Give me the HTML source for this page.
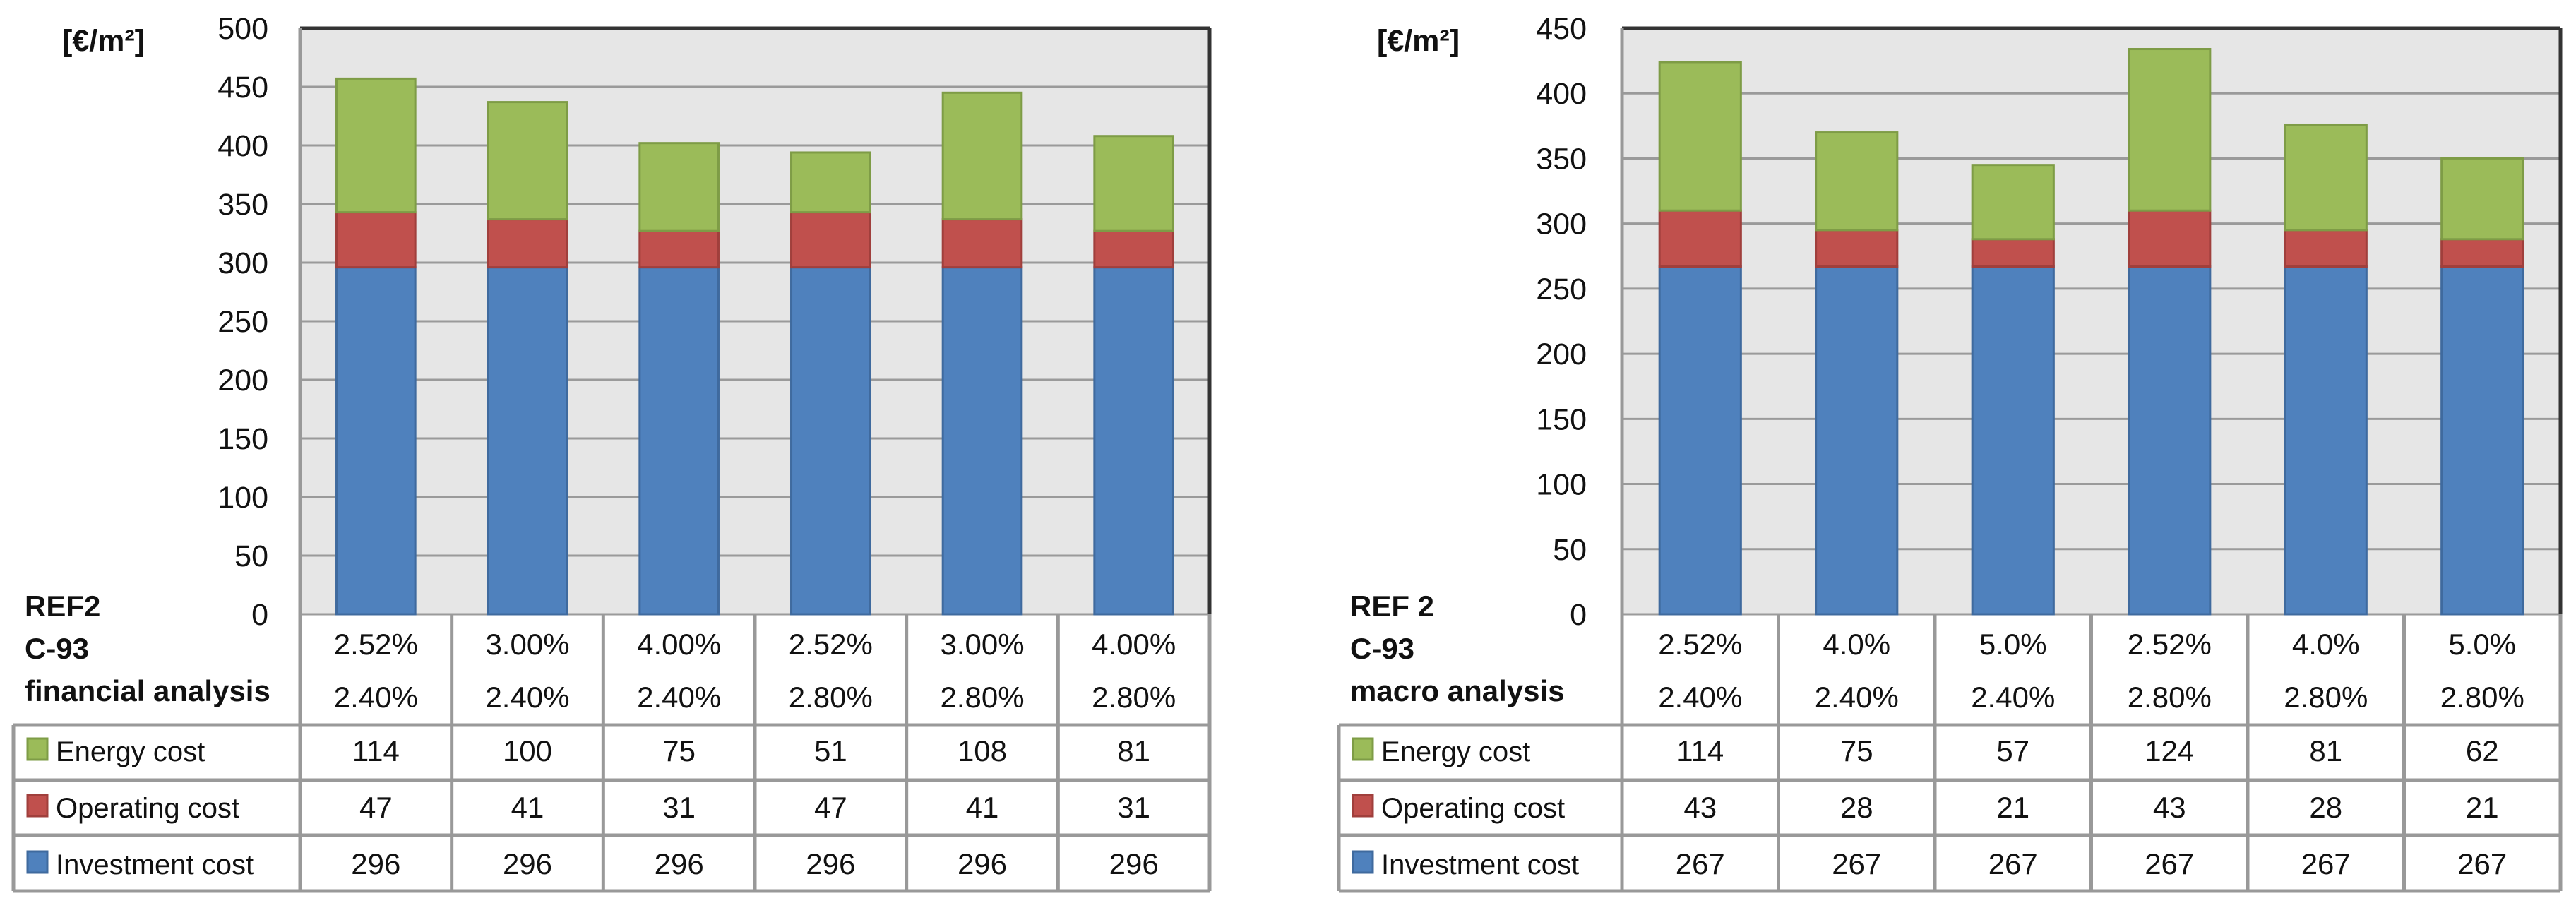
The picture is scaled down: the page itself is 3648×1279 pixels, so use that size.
<!DOCTYPE html>
<html><head><meta charset="utf-8"><style>
html,body{margin:0;padding:0;background:#fff;}
svg{display:block;}
text{font-family:"Liberation Sans",sans-serif;fill:#111;}
</style></head><body>
<svg id="chart" width="3648" height="1279" viewBox="0 0 3648 1279" xmlns="http://www.w3.org/2000/svg"></svg>
<script>
const leftEnergy=[114,100,75,51,108,81];
const leftOperating=[47,41,31,47,41,31];
const leftInvestment=[296,296,296,296,296,296];
const leftRate1=["2.52%","3.00%","4.00%","2.52%","3.00%","4.00%"];
const leftRate2=["2.40%","2.40%","2.40%","2.80%","2.80%","2.80%"];
const leftTicks=[0,50,100,150,200,250,300,350,400,450,500];
const leftHeader=["REF2","C-93","financial analysis"];

const rightEnergy=[114,75,57,124,81,62];
const rightOperating=[43,28,21,43,28,21];
const rightInvestment=[267,267,267,267,267,267];
const rightRate1=["2.52%","4.0%","5.0%","2.52%","4.0%","5.0%"];
const rightRate2=["2.40%","2.40%","2.40%","2.80%","2.80%","2.80%"];
const rightTicks=[0,50,100,150,200,250,300,350,400,450];
const rightHeader=["REF 2","C-93","macro analysis"];

const seriesNames=["Energy cost","Operating cost","Investment cost"];

const svg=document.getElementById('chart');
const NS="http://www.w3.org/2000/svg";
function mk(tag,attrs,parent){const e=document.createElementNS(NS,tag);for(const k in attrs)e.setAttribute(k,attrs[k]);(parent||svg).appendChild(e);return e;}
function txt(s,attrs,parent){const e=mk('text',attrs,parent);e.textContent=s;return e;}

function drawChart(cfg){
  const g=mk('g',{});
  
  
  const x0=cfg.x0,x1=cfg.x1,yTop=40,yBot=870,max=cfg.ticks[cfg.ticks.length-1];
  const y=v=>yBot-(v/max)*(yBot-yTop);
  const n=cfg.energy.length,slot=(x1-x0)/n;
  const xc=i=>x0+slot*(i+0.5);
  const bw=slot*0.52;
  // plot bg
  const bg=mk('rect',{x:x0,y:yTop,width:x1-x0,height:yBot-yTop,fill:'#e6e6e6'},g);
  
  
  cfg.ticks.forEach(t=>{
    const gl=mk('line',{x1:x0,x2:x1,y1:y(t),y2:y(t),stroke:'#9a9a9a','stroke-width':3},g);
    
    
    const tl=txt(String(t),{x:cfg.tickX,y:y(t)+15,'text-anchor':'end','font-size':43},g);
    
    
  });
  mk('line',{x1:x0,x2:x1,y1:yTop,y2:yTop,stroke:'#333','stroke-width':5},g);
  mk('line',{x1:x1,x2:x1,y1:yTop,y2:yBot,stroke:'#333','stroke-width':5},g);
  mk('line',{x1:x0,x2:x0,y1:yTop,y2:yBot,stroke:'#999','stroke-width':5},g);
  const ul=txt('[€/m²]',{x:cfg.unitX,y:72,'font-size':43,'font-weight':'bold'},g);
  
  
  // bars
  for(let i=0;i<n;i++){
    const segs=[[cfg.invest[i],'#4f81bd','#3f6a9e','bar-investment'],[cfg.oper[i],'#c0504d','#a03f3c','bar-operating'],[cfg.energy[i],'#9bbb59','#7e9c46','bar-energy']];
    let base=0;
    segs.forEach(s=>{
      const r=mk('rect',{x:xc(i)-bw/2,y:y(base+s[0]),width:bw,height:y(base)-y(base+s[0]),fill:s[1],stroke:s[2],'stroke-width':3},g);
      
      
      base+=s[0];
    });
  }
  // table
  const rowY=[870,1027,1105,1183,1262];
  const tb=mk('g',{},g);
  
  
  const lc='#999';
  for(let i=0;i<=n;i++){mk('line',{x1:x0+slot*i,x2:x0+slot*i,y1:yBot,y2:1262,stroke:lc,'stroke-width':5},tb);}
  [1027,1105,1183,1262].forEach(yy=>mk('line',{x1:cfg.tableX,x2:x1,y1:yy,y2:yy,stroke:lc,'stroke-width':5},tb));
  mk('line',{x1:cfg.tableX,x2:cfg.tableX,y1:1027,y2:1262,stroke:lc,'stroke-width':5},tb);
  const hb=[873,933,993];
  cfg.header.forEach((h,k)=>{
    const t=txt(h,{x:cfg.tableX+16,y:hb[k],'font-size':42,'font-weight':'bold'},tb);
    
    
  });
  for(let i=0;i<n;i++){
    const a=txt(cfg.r1[i],{x:xc(i),y:927,'text-anchor':'middle','font-size':42},tb);
    
    
    const b=txt(cfg.r2[i],{x:xc(i),y:1002,'text-anchor':'middle','font-size':42},tb);
    
    
  }
  const rows=[cfg.energy,cfg.oper,cfg.invest];
  const cols=[['#9bbb59','#7e9c46'],['#c0504d','#a03f3c'],['#4f81bd','#3f6a9e']];
  const rb=[1078,1158,1238];
  rows.forEach((arr,r)=>{
    const sq=mk('rect',{x:cfg.tableX+20,y:rb[r]-32,width:28,height:30,fill:cols[r][0],stroke:cols[r][1],'stroke-width':3},tb);
    
    
    const lt=txt(seriesNames[r],{x:cfg.tableX+60,y:rb[r],'font-size':40},tb);
    
    
    arr.forEach((v,i)=>{
      const c=txt(String(v),{x:xc(i),y:rb[r],'text-anchor':'middle','font-size':42},tb);
      
      
    });
  });
}
drawChart({name:'financial-analysis-chart',x0:425,x1:1713,tickX:380,unitX:88,tableX:19,ticks:leftTicks,energy:leftEnergy,oper:leftOperating,invest:leftInvestment,r1:leftRate1,r2:leftRate2,header:leftHeader});
drawChart({name:'macro-analysis-chart',x0:2297,x1:3626,tickX:2247,unitX:1950,tableX:1896,ticks:rightTicks,energy:rightEnergy,oper:rightOperating,invest:rightInvestment,r1:rightRate1,r2:rightRate2,header:rightHeader});
</script>
</body></html>
